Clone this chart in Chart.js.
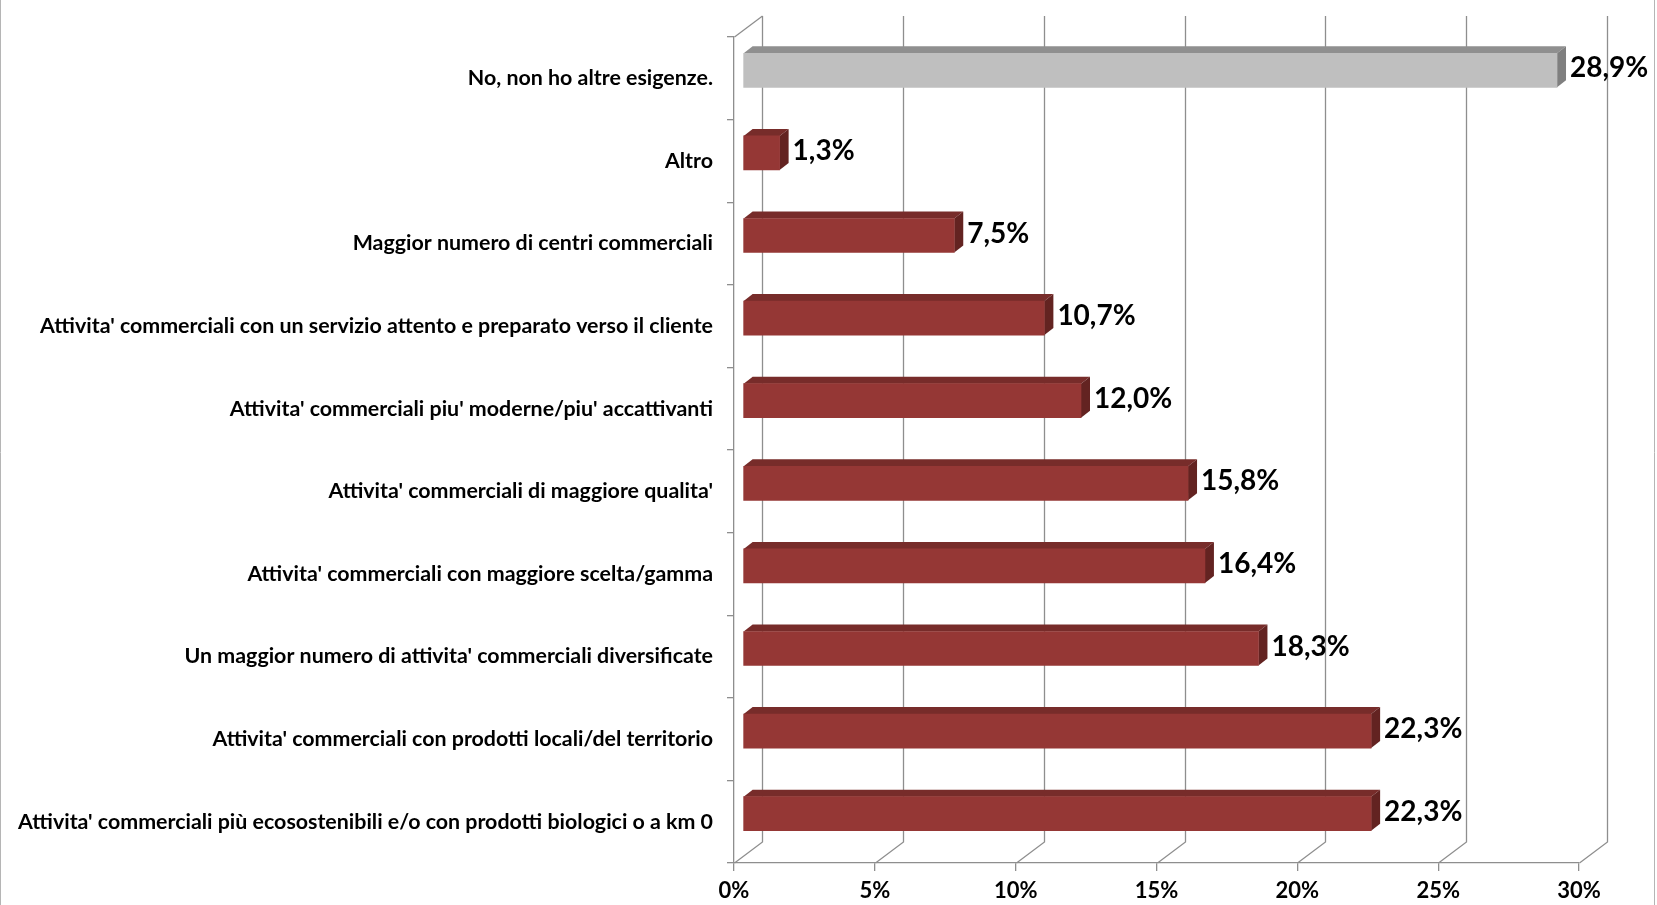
<!DOCTYPE html>
<html>
<head>
<meta charset="utf-8">
<script src="https://cdn.jsdelivr.net/npm/chart.js@4/dist/chart.umd.min.js"></script>
<style>
  html, body { margin: 0; padding: 0; background: #fff; }
  #wrap { width: 1657px; height: 905px; position: relative; }
</style>
</head>
<body>
<div id="wrap"><canvas id="myChart"></canvas></div>
<script>
// risposte (dall'alto verso il basso)
var categorie = [
    "No, non ho altre esigenze.",
    "Altro",
    "Maggior numero di centri commerciali",
    "Attivita' commerciali con un servizio attento e preparato verso il cliente",
    "Attivita' commerciali piu' moderne/piu' accattivanti",
    "Attivita' commerciali di maggiore qualita'",
    "Attivita' commerciali con maggiore scelta/gamma",
    "Un maggior numero di attivita' commerciali diversificate",
    "Attivita' commerciali con prodotti locali/del territorio",
    "Attivita' commerciali più ecosostenibili e/o con prodotti biologici o a km 0"
];
var percentuali = [28.9, 1.3, 7.5, 10.7, 12.0, 15.8, 16.4, 18.3, 22.3, 22.3];
var tickValori = [0, 5, 10, 15, 20, 25, 30];

var coloreFronte = percentuali.map(function (v, i) { return i == 0 ? '#bfbfbf' : '#953735'; });
var coloreSopra = percentuali.map(function (v, i) { return i == 0 ? '#8f8f8f' : '#772c2a'; });
var coloreLato = percentuali.map(function (v, i) { return i == 0 ? '#7f7f7f' : '#632321'; });

// profondita' del "3D"
var wallDx = 28, wallDy = -21;
var barShiftX = 9, barShiftY = -8;
var barDx = 9, barDy = -7;

var grigio = '#8e8e8e';

var effetto3D = {
    id: 'effetto3D',
    beforeDraw: function (chart) {
        var ctx = chart.ctx;
        ctx.save();
        ctx.strokeStyle = '#b5b5b5';
        ctx.lineWidth = 1;
        ctx.beginPath();
        ctx.moveTo(0.5, 0);
        ctx.lineTo(0.5, chart.height);
        ctx.moveTo(chart.width - 2.5, 0);
        ctx.lineTo(chart.width - 2.5, chart.height);
        ctx.stroke();
        ctx.restore();
    },
    beforeDatasetsDraw: function (chart) {
        var ctx = chart.ctx;
        var xs = chart.scales.x;
        var area = chart.chartArea;
        ctx.save();
        ctx.strokeStyle = grigio;
        ctx.lineWidth = 1.3;
        // parete di fondo + pavimento
        tickValori.forEach(function (v) {
            var px = Math.round(xs.getPixelForValue(v)) + 0.5;
            ctx.beginPath();
            ctx.moveTo(px + wallDx, area.top + wallDy);
            ctx.lineTo(px + wallDx, area.bottom + wallDy);
            ctx.lineTo(px, area.bottom);
            ctx.stroke();
        });
        // spigolo in alto a sinistra
        var x0 = Math.round(area.left) + 0.5;
        ctx.beginPath();
        ctx.moveTo(x0, area.top);
        ctx.lineTo(x0 + wallDx, area.top + wallDy);
        ctx.stroke();
        ctx.restore();

        // facce superiori e laterali delle barre
        ctx.save();
        ctx.translate(barShiftX, barShiftY);
        var meta = chart.getDatasetMeta(0);
        meta.data.forEach(function (bar, i) {
            var p = bar.getProps(['x', 'y', 'base', 'height'], true);
            var yT = p.y - p.height / 2, yB = p.y + p.height / 2;
            ctx.fillStyle = coloreSopra[i];
            ctx.beginPath();
            ctx.moveTo(p.base, yT);
            ctx.lineTo(p.base + barDx, yT + barDy);
            ctx.lineTo(p.x + barDx, yT + barDy);
            ctx.lineTo(p.x, yT);
            ctx.closePath();
            ctx.fill();
            ctx.fillStyle = coloreLato[i];
            ctx.beginPath();
            ctx.moveTo(p.x, yT);
            ctx.lineTo(p.x + barDx, yT + barDy);
            ctx.lineTo(p.x + barDx, yB + barDy);
            ctx.lineTo(p.x, yB);
            ctx.closePath();
            ctx.fill();
        });
    },
    afterDatasetsDraw: function (chart) {
        var ctx = chart.ctx;
        ctx.restore();
        // etichette dei valori
        var meta = chart.getDatasetMeta(0);
        ctx.save();
        ctx.font = 'bold 28px Lato';
        ctx.fillStyle = '#000';
        ctx.textAlign = 'left';
        ctx.textBaseline = 'middle';
        meta.data.forEach(function (bar, i) {
            var p = bar.getProps(['x', 'y'], true);
            var testo = percentuali[i].toFixed(1).replace('.', ',') + '%';
            ctx.fillText(testo, p.x + barShiftX + barDx + 4, p.y + barShiftY - 2);
        });
        ctx.restore();
    }
};

var ctx = document.getElementById('myChart');

var myChart = new Chart(ctx, {
    type: 'bar',
    data: {
        labels: categorie,
        datasets: [{
            data: percentuali,
            backgroundColor: coloreFronte,
            borderWidth: 0,
            barThickness: 34
        }]
    },
    options: {
        indexAxis: 'y',
        responsive: true,
        maintainAspectRatio: false,
        animation: false,
        layout: { padding: { top: 37, right: 78, left: 0, bottom: 0 } },
        plugins: {
            legend: { display: false },
            tooltip: { enabled: false }
        },
        scales: {
            x: {
                min: 0,
                max: 30,
                afterBuildTicks: function (scale) {
                    scale.ticks = tickValori.map(function (v) { return { value: v }; });
                },
                afterFit: function (scale) { scale.height = 42; },
                grid: { drawOnChartArea: false, drawTicks: true, tickLength: 8, color: grigio, lineWidth: 1.3 },
                border: { display: true, color: grigio, width: 1.3 },
                ticks: {
                    color: '#000',
                    padding: 7,
                    maxRotation: 0,
                    font: { family: 'Lato', size: 22, weight: 'bold' },
                    callback: function (v) { return v + '%'; }
                }
            },
            y: {
                afterFit: function (scale) { scale.width = 734; },
                grid: { drawOnChartArea: false, drawTicks: true, tickLength: 7, color: grigio, lineWidth: 1.3 },
                border: { display: true, color: grigio, width: 1.3 },
                ticks: {
                    color: '#000',
                    padding: 14,
                    autoSkip: false,
                    font: { family: 'Lato', size: 21.4, weight: 'bold' }
                }
            }
        }
    },
    plugins: [effetto3D]
});
</script>
</body>
</html>
